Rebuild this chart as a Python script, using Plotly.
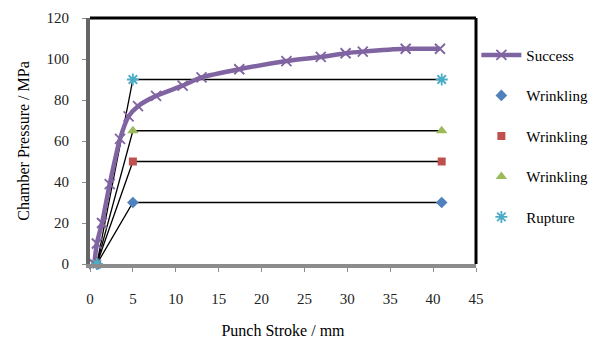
import plotly.graph_objects as go

# Success curve
success_x = [0.5, 0.8, 1.4, 2.3, 3.5, 4.5, 5.6, 7.7, 10.8, 13.0, 17.4, 22.9, 26.9, 29.8, 31.8, 36.8, 40.8]
success_y = [0, 10, 20, 39, 61, 72, 77, 82, 87, 91, 95, 99, 101, 102.8, 103.6, 105, 105]

# Failure cases: start, knee, end
case_x = [0.8, 5, 41]
wrinkle1_y = [0, 30, 30]
wrinkle2_y = [0, 50, 50]
wrinkle3_y = [0, 65, 65]
rupture_y = [0, 90, 90]

x_ticks = [0, 5, 10, 15, 20, 25, 30, 35, 40, 45]
y_ticks = [0, 20, 40, 60, 80, 100, 120]

FONT = "Liberation Serif"
fig = go.Figure()

cases = [
    ("Wrinkling", wrinkle1_y, "#4F81BD", "diamond", 9),
    ("Wrinkling", wrinkle2_y, "#C0504D", "square", 8),
    ("Wrinkling", wrinkle3_y, "#9BBB59", "triangle-up", 10),
    ("Rupture", rupture_y, "#4BACC6", "asterisk-open", 10),
]

# black connecting lines (not in legend)
for name, ys, col, sym, sz in cases:
    fig.add_trace(go.Scatter(x=case_x, y=ys, mode="lines",
                             line=dict(color="black", width=1.3),
                             showlegend=False, hoverinfo="skip", cliponaxis=False))

fig.add_trace(go.Scatter(x=success_x, y=success_y, mode="lines+markers", name="Success",
                         line=dict(color="#8064A2", width=4.5, shape="spline", smoothing=0.6),
                         marker=dict(symbol="x-thin-open", size=10,
                                     line=dict(color="#8064A2", width=1.8)),
                         legendgroup="s", cliponaxis=False))

for i, (name, ys, col, sym, sz) in enumerate(cases):
    if sym == "asterisk-open":
        mk = dict(symbol=sym, size=sz, color=col, line=dict(color=col, width=1.8))
    else:
        mk = dict(symbol=sym, size=sz, color=col, line=dict(width=0))
    fig.add_trace(go.Scatter(x=case_x, y=ys, mode="markers", name=name, marker=mk,
                             legendgroup="g%d" % i, cliponaxis=False))

# plot frame
fig.add_shape(type="line", xref="paper", yref="paper", x0=0, x1=1, y0=1, y1=1,
              line=dict(color="black", width=3))
fig.add_shape(type="line", xref="paper", yref="paper", x0=1, x1=1, y0=0, y1=1,
              line=dict(color="black", width=3))

fig.update_layout(
    width=603, height=339,
    margin=dict(l=90, r=127, t=18, b=75),
    paper_bgcolor="white", plot_bgcolor="white",
    font=dict(family=FONT, size=15, color="#222"),
    legend=dict(xref="container", yref="container", x=0.79, y=0.886,
                xanchor="left", yanchor="top", maxheight=300,
                font=dict(family=FONT, size=15, color="black"),
                tracegroupgap=18, itemwidth=40, bgcolor="rgba(0,0,0,0)"),
    xaxis=dict(range=[0, 45], tickvals=x_ticks, showgrid=False, zeroline=False,
               showline=True, linecolor="#8c8c8c", linewidth=4, mirror=False,
               ticks="outside", ticklen=4, tickcolor="#8c8c8c", tickwidth=1,
               ticklabelstandoff=14, automargin=False,
               title=dict(text="Punch Stroke / mm", font=dict(family=FONT, size=16, color="black"),
                          standoff=22)),
    yaxis=dict(range=[0, 120], tickvals=y_ticks, showgrid=False, zeroline=False,
               showline=True, linecolor="#666666", linewidth=4, mirror=False,
               ticks="outside", ticklen=4, tickcolor="#8c8c8c", tickwidth=1,
               ticklabelstandoff=10, automargin=False,
               title=dict(text="Chamber Pressure / MPa", font=dict(family=FONT, size=16, color="black"),
                          standoff=14)),
)

fig.write_html("out.html")
